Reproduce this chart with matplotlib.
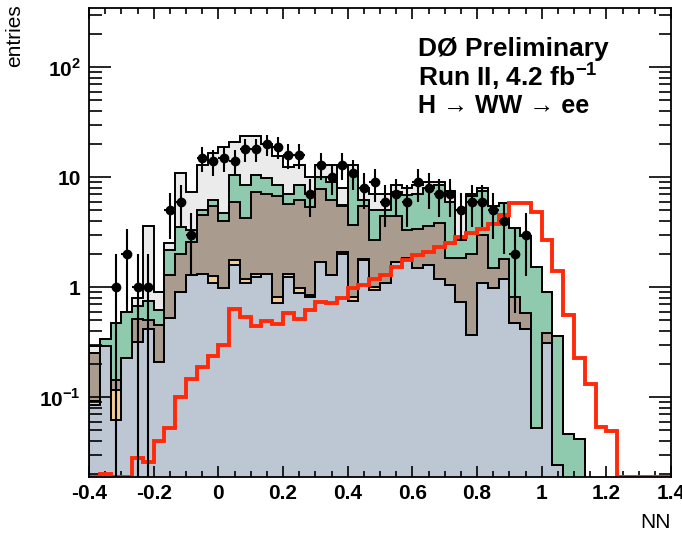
import numpy as np
import matplotlib
matplotlib.use("Agg")
import matplotlib.pyplot as plt
from matplotlib.ticker import FixedLocator, FuncFormatter, MultipleLocator

plt.rcParams["font.family"] = ["Liberation Sans", "DejaVu Sans"]
plt.rcParams["mathtext.fontset"] = "custom"
plt.rcParams["mathtext.rm"] = "Liberation Sans:bold"
plt.rcParams["mathtext.bf"] = "Liberation Sans:bold"

# 54 bins of width 1/30 from -0.4 to 1.4
edges = np.linspace(-0.4, 1.4, 55)

# stacked backgrounds, cumulative heights (what the THStack draws), bottom -> top
stack_wjets = [0.085, 0.29, 0.062, 0.225, 0.32, 0.42, 0.21, 0.52, 0.9, 1.3,
               1.33, 1.1, 0.98, 1.6, 1.1, 1.25, 1.33, 0.72, 1.25, 0.88,
               0.82, 1.7, 1.3, 2.0, 0.75, 1.77, 0.94, 1.1, 1.7, 1.84,
               1.5, 1.6, 1.2, 1.05, 0.74, 0.37, 1.1, 0.98, 1.2, 0.47,
               0.42, 0.052, 0.31, 0.024, 0, 0, 0, 0, 0, 0,
               0, 0, 0, 0]
stack_top = [0.092, 0.29, 0.116, 0.225, 0.32, 0.42, 0.21, 0.52, 0.9, 1.3,
             1.33, 1.27, 0.98, 1.75, 1.2, 1.33, 1.33, 0.82, 1.33, 0.98,
             0.85, 1.7, 1.3, 2.1, 0.82, 1.8, 1.0, 1.1, 1.7, 1.84,
             1.5, 1.6, 1.2, 1.05, 0.74, 0.37, 1.1, 0.98, 1.2, 0.47,
             0.42, 0.052, 0.31, 0.024, 0, 0, 0, 0, 0, 0,
             0, 0, 0, 0]
stack_zjets = [0.25, 0.29, 0.144, 0.225, 0.51, 0.50, 0.45, 1.3, 2.0, 2.6,
               4.5, 5.5, 4.0, 6.0, 4.3, 7.4, 7.0, 6.8, 5.7, 6.2,
               5.4, 7.9, 6.2, 5.5, 3.7, 5.5, 2.7, 4.4, 4.4, 3.3,
               3.4, 3.6, 3.8, 1.84, 1.84, 2.0, 3.0, 1.5, 1.8, 0.82,
               0.58, 0.052, 0.38, 0.024, 0, 0, 0, 0, 0, 0,
               0, 0, 0, 0]
stack_ww = [0.25, 0.34, 0.47, 0.59, 0.67, 0.75, 0.62, 2.2, 3.5, 3.3,
            5.0, 6.2, 4.7, 10.5, 8.5, 10.5, 9.8, 8.5, 7.1, 8.5,
            7.1, 10.1, 9.1, 5.6, 10.9, 6.2, 5.0, 5.0, 7.4, 6.9,
            7.0, 8.0, 8.5, 6.0, 2.7, 6.8, 7.5, 5.5, 5.8, 3.44,
            2.9, 1.54, 0.91, 0.36, 0.046, 0.042, 0, 0, 0, 0,
            0, 0, 0, 0]
stack_multijet = [0.29, 0.34, 0.47, 0.59, 0.79, 3.6, 0.91, 2.5, 11, 7.4,
                  13, 16.5, 19, 21, 23.7, 23.7, 20, 15.6, 12.5, 13,
                  10.1, 13, 13, 8, 13, 8, 7, 7, 8.5, 8,
                  8.5, 9, 9, 7.5, 5, 7, 8, 5.5, 5.8, 3.44,
                  2.9, 1.54, 0.91, 0.36, 0.046, 0.042, 0, 0, 0, 0,
                  0, 0, 0, 0]

# observed events per bin
data_counts = [0, 0, 1, 2, 1, 1, 0, 5, 6, 3,
               15, 14, 15, 14, 18, 18, 20, 19, 16, 16,
               7, 13, 10, 13, 11, 8, 9, 6, 7, 6,
               9, 8, 7, 7, 5, 6, 6, 5, 4, 2,
               3, 0, 0, 0, 0, 0, 0, 0, 0, 0,
               0, 0, 0, 0]

# Higgs signal (scaled)
signal = [0, 0.02, 0, 0, 0.028, 0.026, 0.040, 0.052, 0.10, 0.145,
          0.19, 0.235, 0.30, 0.64, 0.54, 0.44, 0.49, 0.46, 0.58, 0.51,
          0.62, 0.74, 0.72, 0.79, 0.98, 1.05, 1.2, 1.3, 1.54, 1.77,
          1.95, 2.1, 2.33, 2.5, 2.85, 3.1, 3.4, 3.75, 4.5, 5.8,
          5.8, 4.86, 2.69, 1.4, 0.56, 0.225, 0.133, 0.054, 0.049, 0,
          0, 0, 0, 0]

ymin, ymax = 0.0188, 346

layers = [
    (stack_multijet, "#ebebeb"),
    (stack_ww, "#8fc9ae"),
    (stack_zjets, "#a99b8e"),
    (stack_top, "#f0cb93"),
    (stack_wjets, "#bdc7d3"),
]

fig = plt.figure(figsize=(6.82, 5.34), dpi=100)
ax = fig.add_axes([89 / 682, 57 / 534, 582 / 682, 469 / 534])
ax.set_yscale("log")

for vals, col in layers:
    v = np.maximum(np.array(vals, dtype=float), 1e-4)
    ax.stairs(v, edges, baseline=1e-4, fill=True, color=col, zorder=1)
    ax.stairs(v, edges, baseline=1e-4, color="black", lw=1.4, zorder=2)

sig = np.array(signal, dtype=float)
ax.stairs(np.where(sig > 0, sig, ymin), edges, color="#ff2a0a", lw=2.8,
          zorder=3, baseline=None)

# data points with sqrt(N) errors and bin-width x errors
centers = 0.5 * (edges[:-1] + edges[1:])
n = np.array(data_counts, dtype=float)
has = n > 0
x = centers[has]
y = n[has]
err = np.sqrt(y)
lo = np.where(y - err > 0, y - err, 1e-4)
hi = y + err
half = 0.5 * (edges[1] - edges[0])
ax.vlines(x, lo, hi, color="black", lw=1.5, zorder=4)
ax.hlines(y, x - half, x + half, color="black", lw=1.5, zorder=4)
ax.plot(x, y, "o", color="black", ms=6, zorder=5)

ax.set_xlim(-0.4, 1.4)
ax.set_ylim(ymin, ymax)

ax.xaxis.set_major_locator(MultipleLocator(0.2))
ax.xaxis.set_minor_locator(MultipleLocator(0.05))
ax.xaxis.set_major_formatter(FuncFormatter(lambda v, p: f"{v:g}"))

ax.yaxis.set_major_locator(FixedLocator([0.1, 1, 10, 100]))
minor = [m * d for d in (0.01, 0.1, 1, 10, 100) for m in range(2, 10)]
ax.yaxis.set_minor_locator(FixedLocator(minor))
ylabels = {0.1: r"$10^{-1}$", 1: "1", 10: "10", 100: r"$10^{2}$"}
ax.yaxis.set_major_formatter(FuncFormatter(lambda v, p: ylabels.get(round(v, 3), "")))

ax.tick_params(which="both", direction="in", top=True, right=True,
               labelsize=15, width=1.2)
ax.tick_params(axis="x", which="major", length=8, pad=5)
ax.tick_params(axis="x", which="minor", length=4)
ax.tick_params(axis="y", which="major", length=16, pad=6)
ax.tick_params(axis="y", which="minor", length=9)
for lab in ax.get_xticklabels() + ax.get_yticklabels():
    lab.set_fontweight("bold")
for s in ax.spines.values():
    s.set_linewidth(1.3)
    s.set_zorder(6)

fig.text(15 / 682, 1 - 4 / 534, "entries", rotation=90, ha="center", va="top",
         fontsize=15)
fig.text(671 / 682, 1 - 522 / 534, "NN", ha="right", va="center", fontsize=15)

fig.text(418 / 682, 1 - 56 / 534, "DØ Preliminary", fontsize=19,
         fontweight="bold", va="baseline")
fig.text(418 / 682, 1 - 86 / 534, r"Run II, 4.2 fb$^{-1}$", fontsize=19,
         fontweight="bold", va="baseline")
fig.text(418 / 682, 1 - 113 / 534, "H → WW → ee", fontsize=18,
         fontweight="bold", va="baseline")

fig.savefig("out.png", dpi=100)
